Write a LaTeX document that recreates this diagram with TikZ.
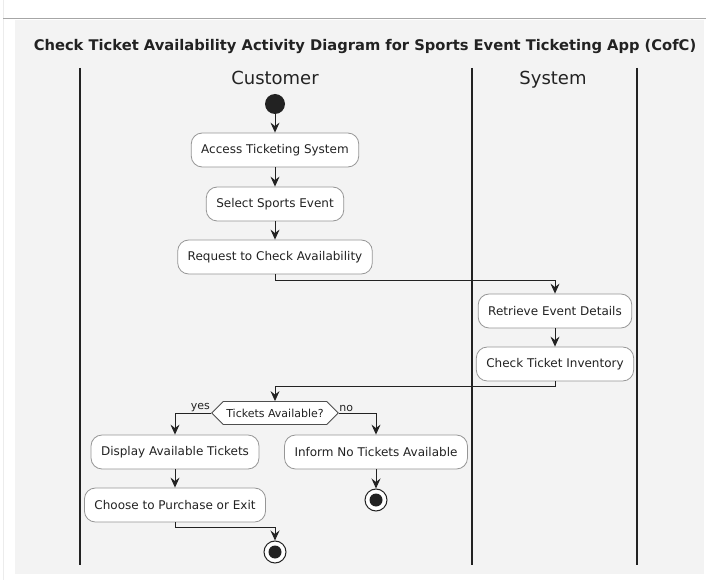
\documentclass[tikz,border=0pt]{standalone}
\usepackage{fontspec}
\setmainfont{DejaVu Sans}
\usetikzlibrary{arrows.meta,shapes.symbols}

\definecolor{panelgray}{RGB}{243,243,243}
\definecolor{boxline}{RGB}{150,150,150}
\definecolor{inkdark}{RGB}{34,34,34}

\tikzset{
  act/.style={draw=boxline, fill=white, rounded corners=11pt, minimum height=34pt,
    inner xsep=10pt, line width=0.8pt, text=inkdark, font=\fontsize{12}{14}\selectfont},
  decision/.style={draw=inkdark!80, fill=white, signal, signal to=west and east,
    minimum height=23pt, inner xsep=3pt, line width=0.8pt, text=inkdark,
    font=\fontsize{11}{13}\selectfont},
  flow/.style={draw=inkdark, line width=1pt, -{Stealth[length=10pt,width=9pt,inset=3.5pt]}},
  lane/.style={draw=inkdark, line width=1.3pt},
  lanehead/.style={text=inkdark, anchor=base, font=\fontsize{18}{20}\selectfont},
  startdot/.style={circle, fill=inkdark, minimum size=20pt, inner sep=0pt},
  enddot/.style={circle, draw=inkdark, line width=1pt, fill=white, minimum size=22pt, inner sep=0pt,
    path picture={\fill[inkdark] (path picture bounding box.center) circle (6.5pt);}},
  guard/.style={text=inkdark, font=\fontsize{11}{13}\selectfont, inner sep=1pt}
}

\begin{document}
\begin{tikzpicture}[x=1pt, y=-1pt]
      \useasboundingbox (0,0) rectangle (718,580);
      \fill[white] (0,0) rectangle (718,580);
      \draw[gray!15] (3,0) -- (3,580);
      \fill[panelgray] (15,20) rectangle (704,574);
      \draw[gray!70, line width=1.5pt] (3,18.5) -- (706,18.5);

      \node[text=inkdark, anchor=base, font=\bfseries\fontsize{14.7}{16}\selectfont] (title) at (365,51)
        {Check Ticket Availability Activity Diagram for Sports Event Ticketing App (CofC)};

      \draw[lane] (80,68) -- (80,565);
      \draw[lane] (472,68) -- (472,565);
      \draw[lane] (637,68) -- (637,565);
      \node[lanehead] (cust) at (275,85) {Customer};
      \node[lanehead] (sys) at (553,85) {System};

      \node[startdot] (start) at (275,104) {};
      \node[act] (acc) at (275,150) {Access Ticketing System};
      \node[act] (sel) at (275,204) {Select Sports Event};
      \node[act] (req) at (275,257) {Request to Check Availability};
      \node[act] (ret) at (555,311) {Retrieve Event Details};
      \node[act] (chk) at (555,364) {Check Ticket Inventory};
      \node[decision] (dec) at (275,413) {Tickets Available?};
      \node[act] (disp) at (175,452) {Display Available Tickets};
      \node[act] (inf) at (376,452) {Inform No Tickets Available};
      \node[act] (cho) at (175,505) {Choose to Purchase or Exit};
      \node[enddot] (endno) at (376,500) {};
      \node[enddot] (endyes) at (275,552) {};

      \draw[flow] (start) -- (acc);
      \draw[flow] (acc) -- (sel);
      \draw[flow] (sel) -- (req);
      \draw[flow] (req.south) -- ++(0,6) -| (ret.north);
      \draw[flow] (ret) -- (chk);
      \draw[flow] (chk.south) -- ++(0,5) -| (dec.north);
      \draw[flow] (dec.west) -| node[guard, pos=0.15, above] {yes} (disp.north);
      \draw[flow] (dec.east) -| node[guard, pos=0.1, above] {no} (inf.north);
      \draw[flow] (disp) -- (cho);
      \draw[flow] (inf) -- (endno);
      \draw[flow] (cho.south) -- ++(0,5) -| (endyes.north);

    \end{tikzpicture}
\end{document}
